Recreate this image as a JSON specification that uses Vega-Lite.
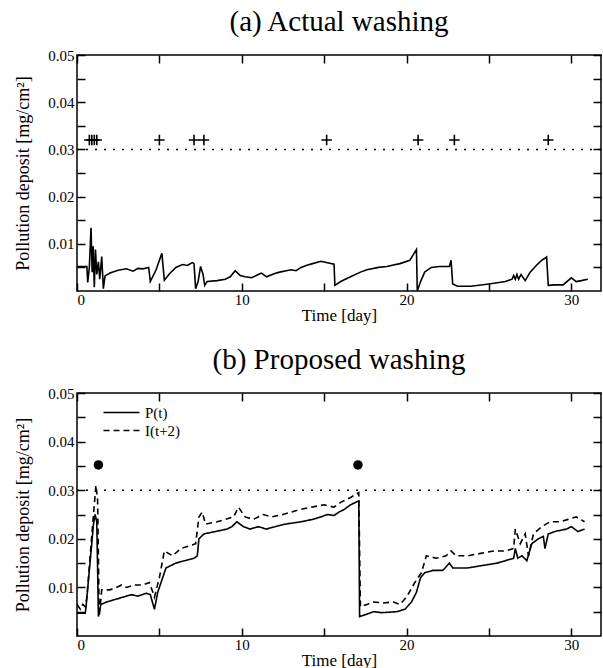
{
  "$schema": "https://vega.github.io/schema/vega-lite/v6.json",
  "background": "white",
  "padding": {"left": 14, "top": 7, "right": 0, "bottom": 0},
  "spacing": 21,
  "resolve": {"legend": {"strokeDash": "independent"}},
  "config": {
    "view": {"stroke": "black", "strokeWidth": 1.5},
    "font": "Liberation Serif",
    "axis": {"domain": false, "grid": false, "ticks": true, "tickColor": "black", "tickWidth": 1.5, "tickSize": 8, "offset": -8, "zindex": 1, "labelColor": "black", "titleColor": "black", "labelFont": "Liberation Serif", "titleFont": "Liberation Serif", "labelFontSize": 15, "titleFontSize": 17, "titleFontWeight": "normal"},
    "title": {"font": "Liberation Serif", "fontSize": 29, "fontWeight": "normal", "color": "black", "offset": 11}
  },
  "datasets": {
    "actual": [
      {"t":0,"v":0.0052},{"t":0.6,"v":0.0052},{"t":0.65,"v":0.0018},{"t":0.75,"v":0.005},{"t":0.85,"v":0.0134},{"t":0.92,"v":0.004},{"t":0.98,"v":0.0095},{"t":1.05,"v":0.0008},{"t":1.12,"v":0.0088},{"t":1.2,"v":0.0035},{"t":1.3,"v":0.0062},{"t":1.38,"v":0.0025},{"t":1.5,"v":0.0073},{"t":1.6,"v":0.0005},{"t":1.7,"v":0.0032},{"t":2.0,"v":0.0038},{"t":2.5,"v":0.0044},{"t":3.0,"v":0.0047},{"t":3.4,"v":0.0042},{"t":3.7,"v":0.0048},{"t":4.0,"v":0.0047},{"t":4.35,"v":0.005},{"t":4.45,"v":0.002},{"t":4.8,"v":0.0045},{"t":5.15,"v":0.008},{"t":5.3,"v":0.0023},{"t":5.6,"v":0.0036},{"t":6.0,"v":0.005},{"t":6.4,"v":0.0056},{"t":6.7,"v":0.0054},{"t":7.0,"v":0.006},{"t":7.1,"v":0.0058},{"t":7.2,"v":0.0005},{"t":7.35,"v":0.002},{"t":7.5,"v":0.0052},{"t":7.65,"v":0.0035},{"t":7.75,"v":0.0012},{"t":7.9,"v":0.002},{"t":8.5,"v":0.0022},{"t":9.0,"v":0.0025},{"t":9.3,"v":0.003},{"t":9.6,"v":0.0043},{"t":9.9,"v":0.0033},{"t":10.2,"v":0.003},{"t":10.6,"v":0.0028},{"t":11.0,"v":0.0035},{"t":11.2,"v":0.0038},{"t":11.5,"v":0.003},{"t":12.0,"v":0.0037},{"t":12.3,"v":0.004},{"t":12.7,"v":0.0043},{"t":13.0,"v":0.0045},{"t":13.3,"v":0.0043},{"t":13.6,"v":0.005},{"t":14.0,"v":0.0055},{"t":14.3,"v":0.0058},{"t":14.8,"v":0.0063},{"t":15.2,"v":0.006},{"t":15.6,"v":0.0057},{"t":15.65,"v":0.0012},{"t":16.0,"v":0.002},{"t":16.6,"v":0.003},{"t":17.2,"v":0.004},{"t":17.6,"v":0.0045},{"t":18.3,"v":0.005},{"t":18.8,"v":0.0052},{"t":19.2,"v":0.0055},{"t":19.6,"v":0.0058},{"t":20.2,"v":0.0065},{"t":20.6,"v":0.0088},{"t":20.65,"v":0.0},{"t":20.85,"v":0.002},{"t":21.1,"v":0.004},{"t":21.5,"v":0.005},{"t":22.0,"v":0.0052},{"t":22.6,"v":0.0052},{"t":22.7,"v":0.0065},{"t":22.8,"v":0.0015},{"t":23.1,"v":0.001},{"t":23.9,"v":0.001},{"t":25.0,"v":0.0015},{"t":26.0,"v":0.002},{"t":26.4,"v":0.0025},{"t":26.5,"v":0.0033},{"t":26.6,"v":0.0025},{"t":26.7,"v":0.0035},{"t":26.8,"v":0.0025},{"t":26.95,"v":0.0035},{"t":27.2,"v":0.0022},{"t":27.5,"v":0.004},{"t":27.9,"v":0.0055},{"t":28.2,"v":0.0065},{"t":28.5,"v":0.0072},{"t":28.6,"v":0.0012},{"t":29.0,"v":0.0013},{"t":29.5,"v":0.0013},{"t":30.0,"v":0.0028},{"t":30.3,"v":0.002},{"t":30.6,"v":0.0022},{"t":31.0,"v":0.0025}
    ],
    "washes": [
      {"t":0.75,"v":0.032},{"t":0.9,"v":0.032},{"t":1.05,"v":0.032},{"t":1.2,"v":0.032},{"t":5.0,"v":0.032},{"t":7.1,"v":0.032},{"t":7.7,"v":0.032},{"t":15.15,"v":0.032},{"t":20.7,"v":0.032},{"t":22.9,"v":0.032},{"t":28.6,"v":0.032}
    ],
    "threshold": [{"level": 0.03}],
    "proposed": [
      {"s":"P(t)","t":0,"v":0.0047},{"s":"P(t)","t":0.5,"v":0.0047},{"s":"P(t)","t":0.55,"v":0.006},{"s":"P(t)","t":1.0,"v":0.023},{"s":"P(t)","t":1.1,"v":0.025},{"s":"P(t)","t":1.2,"v":0.0235},{"s":"P(t)","t":1.3,"v":0.004},{"s":"P(t)","t":1.45,"v":0.0065},{"s":"P(t)","t":1.8,"v":0.007},{"s":"P(t)","t":2.3,"v":0.0075},{"s":"P(t)","t":2.8,"v":0.008},{"s":"P(t)","t":3.3,"v":0.0085},{"s":"P(t)","t":3.7,"v":0.0082},{"s":"P(t)","t":4.2,"v":0.0088},{"s":"P(t)","t":4.45,"v":0.0085},{"s":"P(t)","t":4.7,"v":0.0055},{"s":"P(t)","t":4.9,"v":0.009},{"s":"P(t)","t":5.4,"v":0.014},{"s":"P(t)","t":6.0,"v":0.015},{"s":"P(t)","t":6.55,"v":0.0155},{"s":"P(t)","t":7.1,"v":0.016},{"s":"P(t)","t":7.3,"v":0.0165},{"s":"P(t)","t":7.4,"v":0.02},{"s":"P(t)","t":7.7,"v":0.021},{"s":"P(t)","t":8.4,"v":0.0215},{"s":"P(t)","t":9.1,"v":0.022},{"s":"P(t)","t":9.4,"v":0.0225},{"s":"P(t)","t":9.7,"v":0.0235},{"s":"P(t)","t":10.1,"v":0.0225},{"s":"P(t)","t":10.5,"v":0.022},{"s":"P(t)","t":11.0,"v":0.0225},{"s":"P(t)","t":11.5,"v":0.022},{"s":"P(t)","t":12.0,"v":0.0225},{"s":"P(t)","t":12.6,"v":0.023},{"s":"P(t)","t":13.6,"v":0.0235},{"s":"P(t)","t":14.3,"v":0.024},{"s":"P(t)","t":14.8,"v":0.0245},{"s":"P(t)","t":15.2,"v":0.025},{"s":"P(t)","t":15.6,"v":0.0248},{"s":"P(t)","t":15.9,"v":0.0255},{"s":"P(t)","t":16.2,"v":0.026},{"s":"P(t)","t":16.6,"v":0.027},{"s":"P(t)","t":17.1,"v":0.0278},{"s":"P(t)","t":17.15,"v":0.004},{"s":"P(t)","t":17.6,"v":0.0045},{"s":"P(t)","t":18.0,"v":0.005},{"s":"P(t)","t":18.5,"v":0.0048},{"s":"P(t)","t":19.4,"v":0.005},{"s":"P(t)","t":19.9,"v":0.0055},{"s":"P(t)","t":20.3,"v":0.007},{"s":"P(t)","t":20.6,"v":0.009},{"s":"P(t)","t":20.85,"v":0.012},{"s":"P(t)","t":21.1,"v":0.013},{"s":"P(t)","t":21.6,"v":0.0135},{"s":"P(t)","t":22.2,"v":0.0135},{"s":"P(t)","t":22.6,"v":0.015},{"s":"P(t)","t":22.8,"v":0.014},{"s":"P(t)","t":23.7,"v":0.014},{"s":"P(t)","t":24.6,"v":0.0145},{"s":"P(t)","t":25.5,"v":0.015},{"s":"P(t)","t":26.0,"v":0.0155},{"s":"P(t)","t":26.5,"v":0.016},{"s":"P(t)","t":26.6,"v":0.018},{"s":"P(t)","t":26.75,"v":0.016},{"s":"P(t)","t":27.0,"v":0.0165},{"s":"P(t)","t":27.3,"v":0.0155},{"s":"P(t)","t":27.6,"v":0.019},{"s":"P(t)","t":28.0,"v":0.02},{"s":"P(t)","t":28.3,"v":0.0205},{"s":"P(t)","t":28.4,"v":0.018},{"s":"P(t)","t":28.6,"v":0.021},{"s":"P(t)","t":29.0,"v":0.0215},{"s":"P(t)","t":29.7,"v":0.022},{"s":"P(t)","t":30.0,"v":0.0225},{"s":"P(t)","t":30.4,"v":0.0215},{"s":"P(t)","t":30.8,"v":0.022},
      {"s":"I(t+2)","t":0,"v":0.0065},{"s":"I(t+2)","t":0.2,"v":0.0055},{"s":"I(t+2)","t":0.35,"v":0.0065},{"s":"I(t+2)","t":0.5,"v":0.006},{"s":"I(t+2)","t":0.6,"v":0.008},{"s":"I(t+2)","t":1.0,"v":0.025},{"s":"I(t+2)","t":1.15,"v":0.031},{"s":"I(t+2)","t":1.25,"v":0.028},{"s":"I(t+2)","t":1.35,"v":0.004},{"s":"I(t+2)","t":1.5,"v":0.0095},{"s":"I(t+2)","t":2.0,"v":0.0095},{"s":"I(t+2)","t":2.4,"v":0.01},{"s":"I(t+2)","t":2.7,"v":0.0105},{"s":"I(t+2)","t":3.0,"v":0.01},{"s":"I(t+2)","t":3.5,"v":0.0105},{"s":"I(t+2)","t":4.0,"v":0.0105},{"s":"I(t+2)","t":4.4,"v":0.011},{"s":"I(t+2)","t":4.7,"v":0.008},{"s":"I(t+2)","t":5.0,"v":0.012},{"s":"I(t+2)","t":5.3,"v":0.0175},{"s":"I(t+2)","t":5.8,"v":0.0165},{"s":"I(t+2)","t":6.3,"v":0.018},{"s":"I(t+2)","t":6.8,"v":0.0185},{"s":"I(t+2)","t":7.2,"v":0.019},{"s":"I(t+2)","t":7.4,"v":0.0245},{"s":"I(t+2)","t":7.6,"v":0.0255},{"s":"I(t+2)","t":7.8,"v":0.023},{"s":"I(t+2)","t":8.5,"v":0.0235},{"s":"I(t+2)","t":9.0,"v":0.024},{"s":"I(t+2)","t":9.5,"v":0.0245},{"s":"I(t+2)","t":9.8,"v":0.0265},{"s":"I(t+2)","t":10.2,"v":0.0245},{"s":"I(t+2)","t":10.7,"v":0.024},{"s":"I(t+2)","t":11.3,"v":0.025},{"s":"I(t+2)","t":11.8,"v":0.0245},{"s":"I(t+2)","t":12.5,"v":0.025},{"s":"I(t+2)","t":13.5,"v":0.026},{"s":"I(t+2)","t":14.2,"v":0.0265},{"s":"I(t+2)","t":15.0,"v":0.027},{"s":"I(t+2)","t":15.6,"v":0.0265},{"s":"I(t+2)","t":16.0,"v":0.0275},{"s":"I(t+2)","t":16.6,"v":0.0285},{"s":"I(t+2)","t":17.1,"v":0.0295},{"s":"I(t+2)","t":17.2,"v":0.006},{"s":"I(t+2)","t":17.6,"v":0.0065},{"s":"I(t+2)","t":18.0,"v":0.007},{"s":"I(t+2)","t":18.6,"v":0.0068},{"s":"I(t+2)","t":19.2,"v":0.007},{"s":"I(t+2)","t":19.6,"v":0.0065},{"s":"I(t+2)","t":20.0,"v":0.008},{"s":"I(t+2)","t":20.5,"v":0.011},{"s":"I(t+2)","t":20.9,"v":0.013},{"s":"I(t+2)","t":21.2,"v":0.0165},{"s":"I(t+2)","t":21.8,"v":0.016},{"s":"I(t+2)","t":22.4,"v":0.0165},{"s":"I(t+2)","t":22.7,"v":0.0175},{"s":"I(t+2)","t":23.0,"v":0.0165},{"s":"I(t+2)","t":23.7,"v":0.0165},{"s":"I(t+2)","t":24.5,"v":0.017},{"s":"I(t+2)","t":25.3,"v":0.0175},{"s":"I(t+2)","t":26.0,"v":0.0175},{"s":"I(t+2)","t":26.5,"v":0.018},{"s":"I(t+2)","t":26.6,"v":0.022},{"s":"I(t+2)","t":26.9,"v":0.019},{"s":"I(t+2)","t":27.2,"v":0.021},{"s":"I(t+2)","t":27.4,"v":0.0165},{"s":"I(t+2)","t":27.7,"v":0.021},{"s":"I(t+2)","t":28.2,"v":0.0225},{"s":"I(t+2)","t":28.7,"v":0.0235},{"s":"I(t+2)","t":29.3,"v":0.0235},{"s":"I(t+2)","t":29.8,"v":0.024},{"s":"I(t+2)","t":30.3,"v":0.0245},{"s":"I(t+2)","t":30.8,"v":0.0235}
    ],
    "recommended": [{"t":1.3,"v":0.0352},{"t":17.05,"v":0.0352}]
  },
  "vconcat": [
    {
      "width": 524,
      "height": 236,
      "title": {"text": "(a) Actual washing"},
      "layer": [
        {
          "data": {"name": "actual"},
          "mark": {"type": "line", "color": "black", "strokeWidth": 1.6},
          "encoding": {
            "x": {"field": "t", "type": "quantitative", "scale": {"domain": [0, 31.8], "nice": false, "zero": false},
              "axis": {"orient": "bottom", "values": [0,5,10,15,20,25,30], "format": "d", "labelExpr": "datum.value % 10 === 0 ? datum.label : ''", "labelPadding": 1, "title": "Time [day]", "titlePadding": 0}},
            "y": {"field": "v", "type": "quantitative", "scale": {"domain": [0, 0.05], "nice": false},
              "axis": {"orient": "left", "values": [0.005,0.01,0.015,0.02,0.025,0.03,0.035,0.04,0.045,0.05], "labelExpr": "round(datum.value*1000) % 10 === 0 ? format(datum.value, '.2f') : ''", "labelPadding": 3, "title": "Pollution deposit [mg/cm²]", "titleFontSize": 18, "titlePadding": 15}}
          }
        },
        {
          "data": {"name": "washes"},
          "mark": {"type": "point", "shape": "M-1,0H1M0,-1V1", "size": 110, "strokeWidth": 1.6, "color": "black", "filled": false, "opacity": 1},
          "encoding": {
            "x": {"field": "t", "type": "quantitative",
              "axis": {"orient": "top", "values": [0,5,10,15,20,25,30], "labels": false, "title": null}},
            "y": {"field": "v", "type": "quantitative",
              "axis": {"orient": "right", "values": [0.005,0.01,0.015,0.02,0.025,0.03,0.035,0.04,0.045,0.05], "labels": false, "title": null}}
          }
        },
        {
          "data": {"name": "threshold"},
          "mark": {"type": "rule", "color": "black", "strokeWidth": 1.5, "strokeDash": [2, 7]},
          "encoding": {"y": {"field": "level", "type": "quantitative", "axis": null}}
        }
      ],
      "resolve": {"axis": {"x": "independent", "y": "independent"}}
    },
    {
      "width": 524,
      "height": 243,
      "title": {"text": "(b) Proposed washing"},
      "layer": [
        {
          "data": {"name": "proposed"},
          "mark": {"type": "line", "color": "black", "strokeWidth": 1.6},
          "encoding": {
            "x": {"field": "t", "type": "quantitative", "scale": {"domain": [0, 31.8], "nice": false, "zero": false},
              "axis": {"orient": "bottom", "values": [0,5,10,15,20,25,30], "format": "d", "labelExpr": "datum.value % 10 === 0 ? datum.label : ''", "labelPadding": 1, "title": "Time [day]", "titlePadding": 0}},
            "y": {"field": "v", "type": "quantitative", "scale": {"domain": [0, 0.05], "nice": false},
              "axis": {"orient": "left", "values": [0.005,0.01,0.015,0.02,0.025,0.03,0.035,0.04,0.045,0.05], "labelExpr": "round(datum.value*1000) % 10 === 0 ? format(datum.value, '.2f') : ''", "labelPadding": 3, "title": "Pollution deposit [mg/cm²]", "titleFontSize": 18, "titlePadding": 15}},
            "detail": {"field": "s"},
            "strokeDash": {"field": "s", "type": "nominal",
              "scale": {"domain": ["P(t)", "I(t+2)"], "range": [[1, 0], [6, 4]]},
              "legend": {"orient": "none", "legendX": 37, "legendY": 12, "title": null, "symbolType": "M-3,0H3", "symbolSize": 144, "symbolStrokeWidth": 1.5, "symbolStrokeColor": "black", "symbolFillColor": "transparent", "labelFont": "Liberation Serif", "labelFontSize": 15, "labelColor": "black", "labelOffset": 16, "padding": 0, "rowPadding": 2}}
          }
        },
        {
          "data": {"name": "recommended"},
          "mark": {"type": "circle", "size": 90, "color": "black", "opacity": 1},
          "encoding": {
            "x": {"field": "t", "type": "quantitative",
              "axis": {"orient": "top", "values": [0,5,10,15,20,25,30], "labels": false, "title": null}},
            "y": {"field": "v", "type": "quantitative",
              "axis": {"orient": "right", "values": [0.005,0.01,0.015,0.02,0.025,0.03,0.035,0.04,0.045,0.05], "labels": false, "title": null}}
          }
        },
        {
          "data": {"name": "threshold"},
          "mark": {"type": "rule", "color": "black", "strokeWidth": 1.5, "strokeDash": [2, 7]},
          "encoding": {"y": {"field": "level", "type": "quantitative", "axis": null}}
        }
      ],
      "resolve": {"axis": {"x": "independent", "y": "independent"}}
    }
  ]
}
